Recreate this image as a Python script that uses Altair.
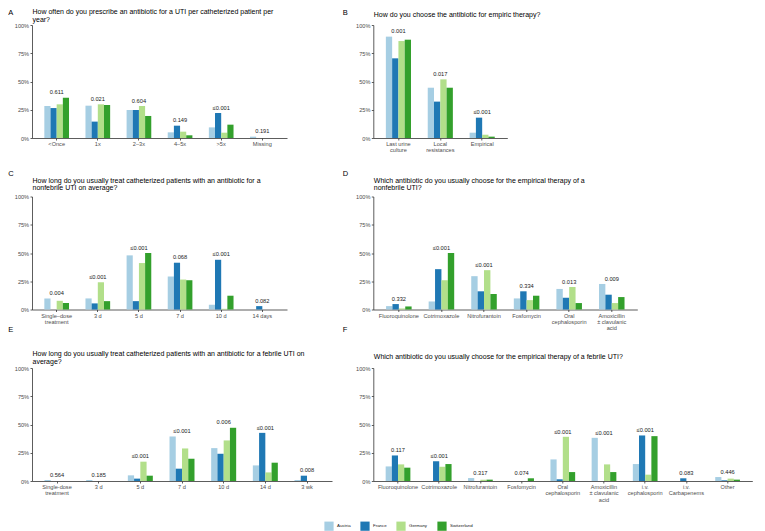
import altair as alt
import pandas as pd

FONT = "Liberation Sans"
countries = ["Austria", "France", "Germany", "Switzerland"]
colors = ["#a6cee3", "#1f78b4", "#b2df8a", "#33a02c"]

# ---------- Panel A ----------
a_title = ["How often do you prescribe an antibiotic for a UTI per catheterized patient per", "year?"]
a_cats = ["<Once", "1x", "2–3x", "4–5x", ">5x", "Missing"]
a_austria = [28.3, 28.6, 24.8, 5.0, 9.4, 1.2]
a_france = [26.5, 14.5, 24.8, 10.9, 22.1, 0]
a_germany = [29.8, 29.8, 28.3, 5.6, 4.7, 0]
a_switz = [35.7, 29.2, 19.5, 2.4, 11.8, 0]
a_p = ["0.611", "0.021", "0.604", "0.149", "≤0.001", "0.191"]

# ---------- Panel B ----------
b_title = ["How do you choose the antibiotic for empiric therapy?"]
b_cats = ["Last urine\nculture", "Local\nresistances", "Empirical"]
b_austria = [89.7, 44.5, 4.7]
b_france = [70.5, 32.2, 18.0]
b_germany = [85.8, 51.9, 2.9]
b_switz = [87.0, 44.5, 1.2]
b_p = ["0.001", "0.017", "≤0.001"]

# ---------- Panel C ----------
c_title = ["How long do you usually treat catheterized patients with an antibiotic for a", "nonfebrile UTI on average?"]
c_cats = ["Single–dose\ntreatment", "3 d", "5 d", "7 d", "10 d", "14 days"]
c_austria = [9.8, 9.8, 47.9, 29.2, 4.2, 0]
c_france = [0, 5.4, 7.4, 41.4, 44.0, 3.0]
c_germany = [7.7, 24.1, 41.1, 26.5, 0.6, 0]
c_switz = [5.7, 7.4, 50.0, 25.9, 12.2, 0]
c_p = ["0.004", "≤0.001", "≤0.001", "0.068", "≤0.001", "0.082"]

# ---------- Panel D ----------
d_title = ["Which antibiotic do you usually choose for the empirical therapy of a", "nonfebrile UTI?"]
d_cats = ["Fluoroquinolone", "Cotrimoxazole", "Nitrofurantoin", "Fosfomycin",
          "Oral\ncephalosporin", "Amoxicillin\n± clavulanic\nacid"]
d_austria = [3.0, 7.1, 29.5, 9.8, 18.2, 22.6]
d_france = [4.8, 35.7, 16.1, 16.1, 10.4, 13.1]
d_germany = [0.9, 25.9, 34.8, 8.3, 19.9, 5.7]
d_switz = [2.7, 50.0, 13.7, 12.2, 5.7, 11.0]
d_p = ["0.332", "≤0.001", "≤0.001", "0.334", "0.013", "0.009"]

# ---------- Panel E ----------
e_title = ["How long do you usually treat catheterized patients with an antibiotic for a febrile UTI on", "average?"]
e_cats = ["Single-dose\ntreatment", "3 d", "5 d", "7 d", "10 d", "14 d", "3 wk"]
e_austria = [0.9, 0.9, 5.0, 39.4, 29.1, 13.8, 0.9]
e_france = [0, 0, 2.1, 10.9, 24.1, 42.6, 4.7]
e_germany = [0, 0, 17.1, 28.8, 35.9, 7.6, 0]
e_switz = [0, 0, 4.7, 19.7, 47.1, 16.2, 0]
e_p = ["0.564", "0.185", "≤0.001", "≤0.001", "0.006", "≤0.001", "0.008"]

# ---------- Panel F ----------
f_title = ["Which antibiotic do you usually choose for the empirical therapy of a febrile UTI?"]
f_cats = ["Fluoroquinolone", "Cotrimoxazole", "Nitrofurantoin", "Fosfomycin",
          "Oral\ncephalosporin", "Amoxicillin\n± clavulanic\nacid", "i.v.\ncephalosporin",
          "i.v.\nCarbapenems", "Other"]
f_austria = [12.9, 0, 2.6, 0, 19.1, 38.2, 15.0, 0, 3.5]
f_france = [22.6, 17.4, 0, 0, 1.5, 0, 40.3, 2.4, 0.6]
f_germany = [14.7, 12.6, 1.2, 0, 39.1, 14.7, 5.6, 0, 2.1]
f_switz = [11.8, 15.0, 1.2, 2.4, 7.9, 7.9, 39.7, 0, 1.2]
f_p = ["0.117", "≤0.001", "0.317", "0.074", "≤0.001", "≤0.001", "≤0.001", "0.083", "0.446"]

PLOT_H = 113


def panel(cats, series, pvals, title_lines, title_y, letter, letter_x, letter_y, width):
    rows = []
    for i, c in enumerate(cats):
        for country, vals in zip(countries, series):
            rows.append({"cat": c, "country": country, "value": vals[i] / 100.0})
    df = pd.DataFrame(rows)
    lab = pd.DataFrame({
        "cat": cats,
        "p": pvals,
        "top": [max(s[i] for s in series) / 100.0 for i in range(len(cats))],
    })
    one = pd.DataFrame({"k": [0]})

    xscale = alt.Scale(domain=cats, paddingInner=0.4, paddingOuter=0.3)
    xaxis = alt.Axis(title=None, labelAngle=0, labelExpr="split(datum.label, '\\n')",
                     labelBaseline="top", labelLineHeight=6.4, labelOverlap=False,
                     labelPadding=1.5, tickSize=2)
    yscale = alt.Scale(domain=[0, 1], nice=False, zero=True)
    yaxis = alt.Axis(title=None, values=[0, 0.25, 0.5, 0.75, 1], format=".0%",
                     labelPadding=1.4, tickSize=2)

    bars = alt.Chart(df).mark_bar().encode(
        x=alt.X("cat:N", sort=cats, scale=xscale, axis=xaxis),
        xOffset=alt.XOffset("country:N", sort=countries,
                            scale=alt.Scale(domain=countries, paddingInner=0, paddingOuter=0)),
        y=alt.Y("value:Q", scale=yscale, axis=yaxis),
        color=alt.Color("country:N", sort=countries,
                        scale=alt.Scale(domain=countries, range=colors),
                        legend=alt.Legend(title=None, orient="none", direction="horizontal",
                                          legendX=292, legendY=496,
                                          symbolType="square", symbolSize=85,
                                          symbolStrokeWidth=0, symbolOpacity=1,
                                          labelFontSize=4.4, labelOffset=3,
                                          columnPadding=9, labelColor="#1a1a1a",
                                          labelFont=FONT)),
    )
    ptext = alt.Chart(lab).mark_text(fontSize=5.7, dy=-5.3, baseline="middle",
                                     color="#1a1a1a", font=FONT).encode(
        x=alt.X("cat:N", sort=cats, scale=xscale, axis=xaxis),
        y=alt.Y("top:Q", scale=yscale, axis=yaxis),
        text="p:N",
    )
    title = alt.Chart(one).mark_text(align="left", baseline="middle", fontSize=7,
                                     lineHeight=7.6, color="#000000", font=FONT).encode(
        x=alt.value(0.5), y=alt.value(title_y), text=alt.value(title_lines)
    )
    let = alt.Chart(one).mark_text(align="left", baseline="top", fontSize=7.5,
                                   color="#000000", font=FONT).encode(
        x=alt.value(letter_x), y=alt.value(letter_y), text=alt.value(letter)
    )
    return alt.layer(bars, ptext, title, let).properties(width=width, height=PLOT_H)


pA = panel(a_cats, [a_austria, a_france, a_germany, a_switz], a_p, a_title, -12.8,
           "A", -23.7, -16.3, 255)
pB = panel(b_cats, [b_austria, b_france, b_germany, b_switz], b_p, b_title, -10.3,
           "B", -30.5, -16.3, 134)
pC = panel(c_cats, [c_austria, c_france, c_germany, c_switz], c_p, c_title, -15.8,
           "C", -23.7, -26.3, 255)
pD = panel(d_cats, [d_austria, d_france, d_germany, d_switz], d_p, d_title, -15.8,
           "D", -30.5, -26.3, 264)
pE = panel(e_cats, [e_austria, e_france, e_germany, e_switz], e_p, e_title, -14.0,
           "E", -23.7, -42.0, 300)
pF = panel(f_cats, [f_austria, f_france, f_germany, f_switz], f_p, f_title, -10.6,
           "F", -30.5, -42.0, 379)

chart = alt.concat(
    pA, pB, pC, pD, pE, pF, columns=2, bounds="flush",
    spacing=alt.RowColnumber(row=58.5, column=41.3),
).resolve_scale(
    x="independent", y="independent", xOffset="independent", color="shared"
).properties(padding=0).configure(
    font=FONT, background="white"
).configure_view(strokeWidth=0).configure_axis(
    grid=False, domainColor="#333333", domainWidth=0.8, tickColor="#333333", tickWidth=0.8,
    labelColor="#4d4d4d", labelFontSize=5.6, labelFont=FONT,
)

chart.save("out.html", embed_options={"renderer": "svg", "actions": False})
